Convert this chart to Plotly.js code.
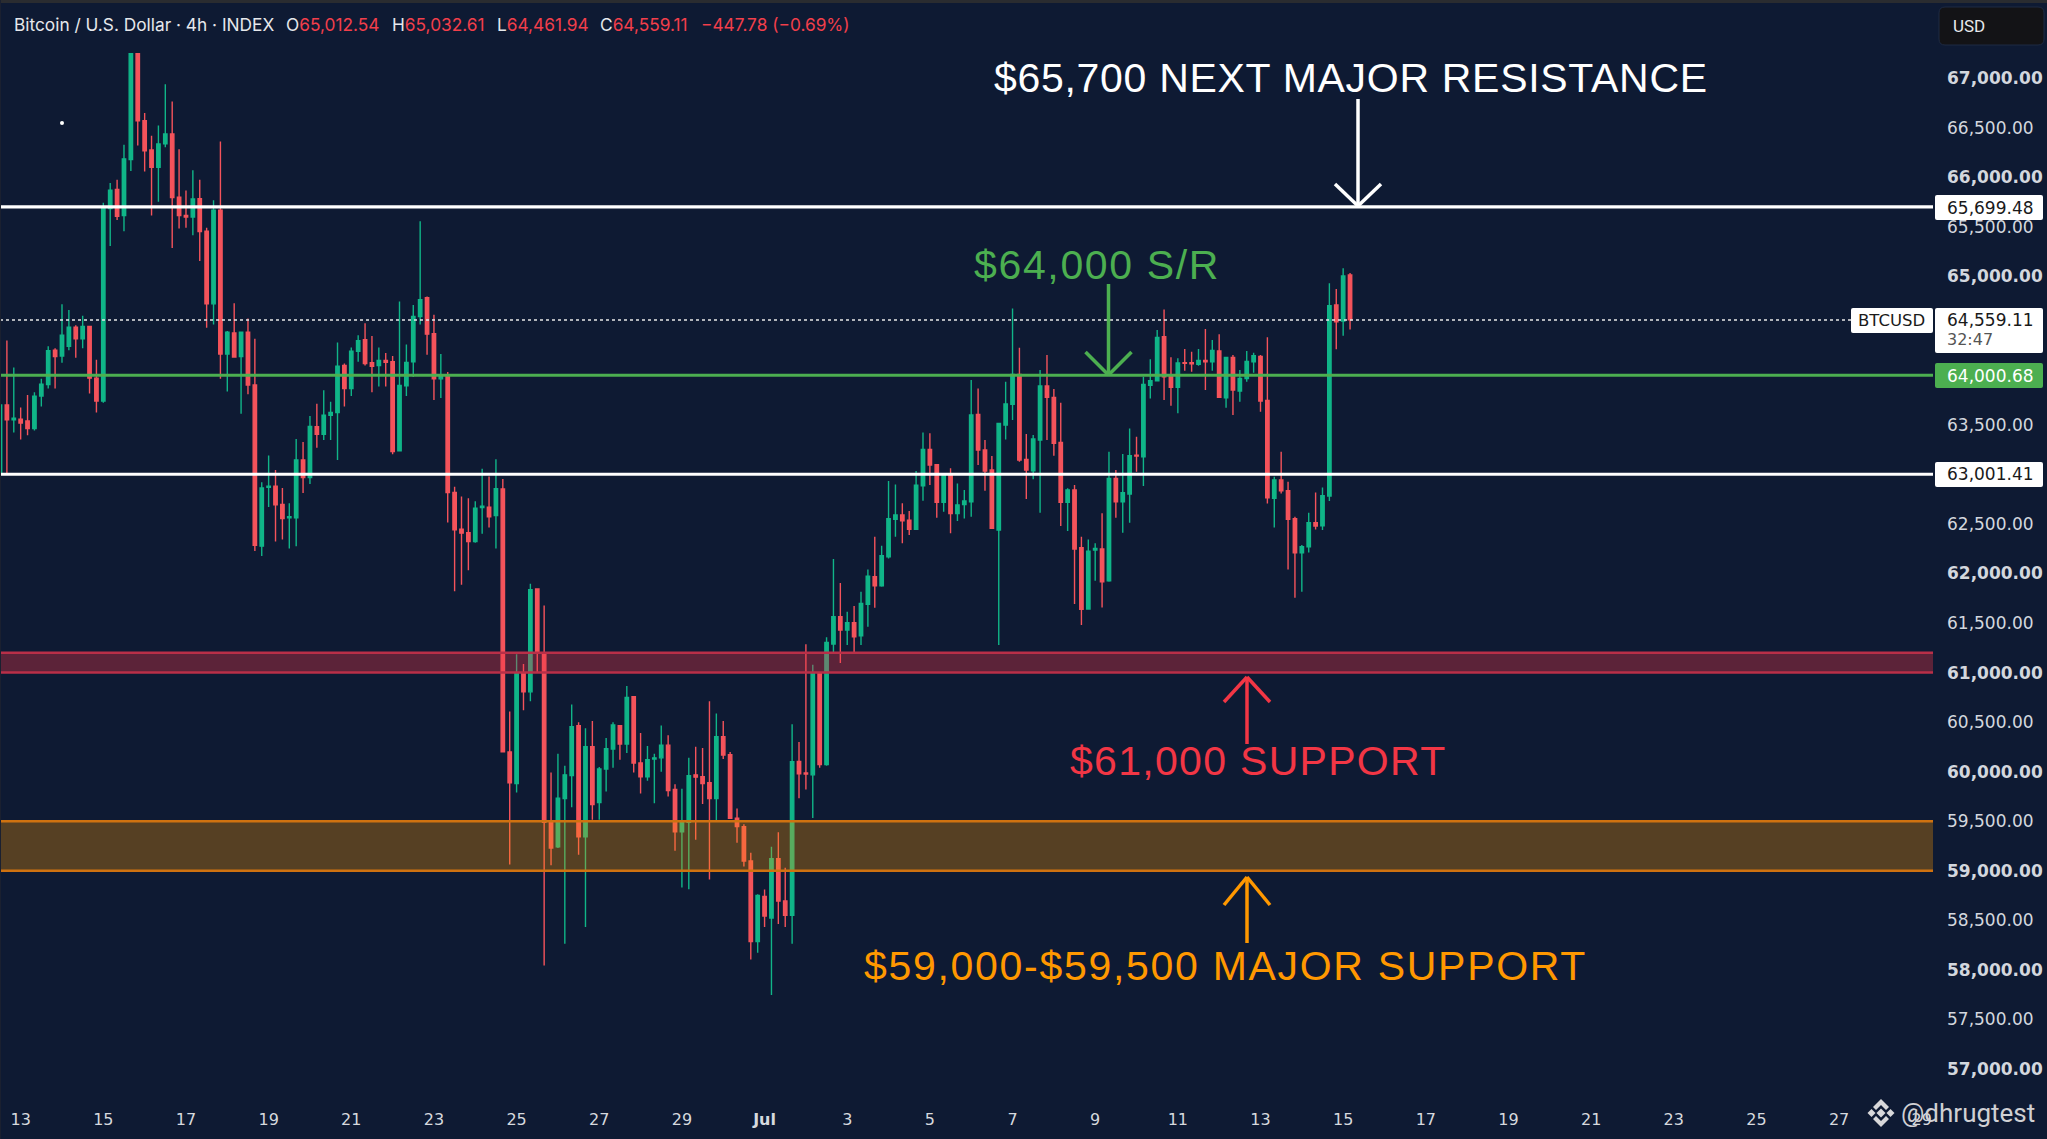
<!DOCTYPE html>
<html><head><meta charset="utf-8">
<script src="https://cdn.plot.ly/plotly-3.0.1.min.js"></script>
<style>html,body{margin:0;padding:0;background:#0e1a33;overflow:hidden}</style>
</head><body><div id="chart" style="width:2047px;height:1139px"></div>
<script>
const opens=[63017,63701,63550,63558,63539,63462,63790,63906,64253,64195,64292,64485,64369,64493,63971,63740,65682,65875,65613,66177,67246,66570,66273,66099,66335,66435,65798,65613,65597,65783,65454,64721,65667,64215,64427,64188,64435,63902,62276,62871,62882,62697,62562,62562,63145,62967,63481,63404,63597,63624,64099,63867,64242,64358,64126,64099,64149,64137,63238,63894,64137,64593,64782,64419,63964,63995,62817,62446,62411,62322,62666,62670,62585,62853,60200,59881,60998,60806,61844,61197,59502,59242,59729,59960,60463,59342,60252,59689,60028,60228,60463,60280,60758,60088,59949,60128,60140,60268,59821,59394,59490,59968,59949,59889,59729,60352,60172,59530,59446,59099,58285,58740,58524,59123,58696,58552,60104,59988,59968,60998,60072,61289,61564,61429,61503,61372,61688,61967,61877,62169,62546,62590,62539,62445,62886,63252,63098,62718,62993,62606,62697,62724,63606,63246,63044,62438,63498,63707,64009,63151,63037,63347,63892,63777,63323,62718,62842,62260,61641,62236,62247,61927,62960,62724,62802,63195,63178,63898,63945,64389,63992,63878,64127,64127,64110,64151,64137,64245,63774,64181,63841,63966,64137,64191,63747,62758,62943,62835,62553,62210,62270,62512,62482,62781,64709,64548,65012.54];
const highs=[63701,64350,64079,63674,63802,63828,63964,64292,64273,64717,64659,64504,64601,64497,64157,65740,65941,65972,66327,67246,67246,66648,66416,66520,66937,66764,66281,65864,66068,65972,65489,65767,66358,64446,64728,64435,64574,64369,62921,63191,63045,62863,62709,63357,63326,63589,63713,63848,63732,64330,64118,64280,64404,64524,64396,64280,64226,64195,64744,64311,64709,65555,64794,64612,64215,64033,62875,62778,62759,62728,63056,62979,63153,62953,60607,61185,61086,61896,61844,61676,59992,60180,60060,60679,60499,60439,60511,60048,60340,60499,60471,60866,60758,60391,60260,60180,60467,60367,59873,59829,60140,60252,60240,60711,60587,60511,60200,59629,59470,59182,58763,58811,59242,59390,59031,60479,60300,61285,61078,61006,61357,62147,61904,61614,61671,61816,62041,62371,62280,62933,62899,62708,62630,63034,63424,63414,63104,63010,63061,62909,62842,63952,63868,63347,63185,63522,63935,64675,64278,63407,63397,64053,64204,63861,63723,62859,62892,62371,62344,62304,62607,63229,63044,63205,63464,63380,63986,64161,64457,64665,64181,64171,64265,64238,64265,64467,64356,64413,64188,64204,64053,64245,64228,64204,64383,62977,63229,62926,62573,62287,62613,62818,62869,64928,64870,65079,65032.61];
const lows=[63017,62998,63423,63353,63396,63442,63686,63867,63867,64126,64253,64176,64273,63817,63624,63724,65304,65566,65454,66061,66319,66057,65613,65752,66300,65284,65481,65489,65412,65153,64481,64512,63964,63836,64184,63612,63809,62226,62176,62670,62322,62342,62253,62276,62813,62902,63269,63346,63346,63145,63686,63790,64137,64099,63828,63886,63886,63203,63238,63790,63983,64512,64207,63751,63771,62515,61820,61886,62033,62311,62400,62465,62253,60200,59063,59789,60619,60711,60998,58045,59055,59230,58265,59641,59162,58432,59514,59514,59801,60040,60120,60188,59992,59781,59909,59681,60000,59749,59202,58831,58815,59314,59673,58911,59502,60128,59522,59282,59043,58105,58173,58432,57746,58464,58432,58265,59733,59821,59534,60040,60060,61197,61098,61278,61194,61278,61463,61654,61866,62152,62371,62304,62388,62438,62734,62892,62563,62623,62405,62529,62556,62573,63094,62835,62448,61278,63353,63548,63128,62751,62950,62613,63347,63189,62479,62428,61692,61480,61641,61927,61658,61917,62563,62411,62512,63027,62882,63767,63945,63750,63693,63616,64046,64036,64097,63851,64046,63777,63673,63599,63734,63935,64026,63633,62707,62465,62808,62041,61755,61816,62213,62445,62438,62731,64262,64400,64461.94];
const closes=[63701,63550,63566,63519,63462,63790,63910,64249,64188,64404,64485,64369,64493,63971,63740,65682,65868,65605,66184,67246,66567,66265,66099,66335,66435,65794,65613,65597,65779,65451,64721,65667,64215,64435,64184,64435,63902,62284,62863,62882,62693,62554,62573,63145,62967,63485,63404,63597,63624,64091,63867,64242,64350,64118,64091,64149,64130,63230,63898,64130,64593,64763,64415,63964,63995,62817,62442,62407,62322,62658,62678,62573,62855,60200,59889,60998,60806,61836,61205,59490,59230,59733,59968,60455,59342,60252,59669,60028,60232,60471,60280,60750,60088,59949,60120,60140,60268,59809,59394,59490,59960,59945,59881,59729,60352,60168,59530,59446,59099,58285,58752,58544,59123,58696,58552,60100,59980,59976,60998,60072,61305,61564,61429,61503,61362,61698,61974,61877,62179,62553,62590,62533,62445,62892,63252,63094,62718,62993,62606,62691,62731,63599,63246,63034,62455,63515,63710,64009,63145,63044,63357,63892,63777,63313,62718,62842,62247,61638,62226,62253,61917,62960,62724,62815,63189,63185,63908,63945,64383,63986,63878,64124,64120,64117,64151,64137,64252,63777,64181,63851,63969,64141,64198,63740,62765,62943,62835,62546,62210,62270,62512,62479,62785,64702,64541,65002,64559.11];

const dateLabels=['13','15','17','19','21','23','25','27','29','<b>Jul</b>','3','5','7','9','11','13','15','17','19','21','23','25','27','29'];
const priceTicks=[57000,57500,58000,58500,59000,59500,60000,60500,61000,61500,62000,62500,63500,65000,65500,66000,66500,67000];
const resistanceLevel=65699.48, srLevel=64000.68, midLevel=63001.41, lastPrice=64559.11;
const redZone=[61000,61200], orangeZone=[59000,59500];

const PW=1933, PH=1099;            // plot size in px
const barPx=6.888;
const ppx=0.0991;                  // px per USD
const yTopPrice=67000+78/ppx;
const X=px=>px/PW, Y=py=>1-py/PH;
const fmt=v=>v.toLocaleString('en-US',{minimumFractionDigits:2,maximumFractionDigits:2});

const navy='#0e1a33', green='#4caf50', red='#f23645', orange='#ff9800';
const shapes=[];
function hline(v,color,w,dash){shapes.push({type:'line',xref:'paper',yref:'y',x0:0,x1:1,y0:v,y1:v,line:{color,width:w,dash:dash||'solid'}});}
function band(z,fill,edge){shapes.push({type:'rect',xref:'paper',yref:'y',x0:0,x1:1,y0:z[0],y1:z[1],fillcolor:fill,line:{width:0}});hline(z[0],edge,2.5);hline(z[1],edge,2.5);}
function seg(x0,y0,x1,y1,color,w){shapes.push({type:'line',xref:'paper',yref:'paper',x0:X(x0),y0:Y(y0),x1:X(x1),y1:Y(y1),line:{color,width:w}});}
function arrow(x,yFrom,yTip,hw,hy,color){seg(x,yFrom,x,yTip,color,3.5);seg(x-hw,hy,x,yTip,color,3.5);seg(x+hw,hy,x,yTip,color,3.5);}
function rrect(x0,y0,x1,y1,r,fill,edge){
 const p=(x,y)=>X(x)+','+Y(y);
 shapes.push({type:'path',xref:'paper',yref:'paper',fillcolor:fill,line:{color:edge||fill,width:edge?1:0},
  path:`M${p(x0+r,y0)} L${p(x1-r,y0)} Q${p(x1,y0)} ${p(x1,y0+r)} L${p(x1,y1-r)} Q${p(x1,y1)} ${p(x1-r,y1)} L${p(x0+r,y1)} Q${p(x0,y1)} ${p(x0,y1-r)} L${p(x0,y0+r)} Q${p(x0,y0)} ${p(x0+r,y0)} Z`});
}
function poly(pts,fill){shapes.push({type:'path',xref:'paper',yref:'paper',fillcolor:fill,line:{width:0},path:'M'+pts.map(a=>X(a[0])+','+Y(a[1])).join(' L')+' Z'});}

band(redZone,'rgba(242,54,69,0.34)','#b92f48');
band(orangeZone,'rgba(255,152,0,0.30)','#cf7210');
hline(lastPrice,'#e8e8e8',1.5,'dot');
hline(resistanceLevel,'#ffffff',3.2);
hline(srLevel,green,3);
hline(midLevel,'#ffffff',3.2);
arrow(1358,99,206,23,184,'#ffffff');
arrow(1108.5,284,375,23,352,green);
arrow(1247,744,677,23,702,red);
arrow(1247,943,877,23,905,orange);
// stray dot
shapes.push({type:'circle',xref:'paper',yref:'paper',x0:X(60),x1:X(64),y0:Y(121),y1:Y(125),fillcolor:'#fff',line:{width:0}});
// top edge
rrect(-1,-1,2047,3,0,'#2a2c30');
rrect(0,0,1,1139,0,'#1a2030');
// badges
rrect(1935,195,2043,220,2,'#ffffff');
rrect(1851,308,1933,333,2,'#ffffff');
rrect(1935,308,2043,353,2,'#ffffff');
rrect(1935,363,2043,388,2,green);
rrect(1935,462,2043,487,2,'#ffffff');
rrect(1939,7,2044,45,6,'#131316','#1e2a42');
// binance mark
const wm='#d8d8da';
const bx=1881,by=1113;
poly([[bx,by-4.5],[bx+4.5,by],[bx,by+4.5],[bx-4.5,by]],wm);
poly([[bx-13.5,by],[bx-9.5,by-4],[bx-5.5,by],[bx-9.5,by+4]],wm);
poly([[bx+13.5,by],[bx+9.5,by-4],[bx+5.5,by],[bx+9.5,by+4]],wm);
poly([[bx,by-14],[bx+8,by-6],[bx+5,by-3],[bx,by-8],[bx-5,by-3],[bx-8,by-6]],wm);
poly([[bx,by+14],[bx+8,by+6],[bx+5,by+3],[bx,by+8],[bx-5,by+3],[bx-8,by+6]],wm);

function note(text,x,y,size,color,family){return {text,xref:'paper',yref:'paper',x:X(x),y:Y(y),xanchor:'left',yanchor:'middle',align:'left',showarrow:false,
  font:{family:family||'Liberation Sans, sans-serif',size,color},borderpad:0};}
const R='#f23f4b', W='#e6e8ec', D='#1a1a1a';
const hdrFont='Inter, sans-serif', num='DejaVu Sans';
const bigTexts=[['$65,700 NEXT MAJOR RESISTANCE',993,78,'#ffffff',0.7],['$64,000 S/R',973,265,green,1.65],['$61,000 SUPPORT',1069,761,red,1.3],['$59,000-$59,500 MAJOR SUPPORT',863,966,orange,1.7]];
const annotations=[
 note('Bitcoin / U.S. Dollar · 4h · INDEX',13,24.5,17.3,W,hdrFont),
 note(`O<span style="color:${R}">65,012.54</span>`,285,24.5,17.3,W,hdrFont),
 note(`H<span style="color:${R}">65,032.61</span>`,391,24.5,17.3,W,hdrFont),
 note(`L<span style="color:${R}">64,461.94</span>`,496,24.5,17.3,W,hdrFont),
 note(`C<span style="color:${R}">64,559.11</span>`,599,24.5,17.3,W,hdrFont),
 note('−447.78 (−0.69%)',700,24.5,17.3,R,hdrFont),
 ...bigTexts.map(t=>note(t[0],t[1],t[2],41,t[3])),
 note('@dhrugtest',1900,1113,26,'#d0d0d3','Roboto, sans-serif'),
 note('USD',1952,26,17,W,'Roboto, sans-serif'),
 note(fmt(resistanceLevel),1946.5,207.5,17,D,num),
 note(fmt(lastPrice),1946.5,319.5,17,D,num),
 note('32:47',1946.5,340,16,'#555555',num),
 note('BTCUSD',1857,320.5,16.5,D,num),
 note(fmt(srLevel),1946.5,375.5,17,'#ffffff',num),
 note(fmt(midLevel),1946.5,474.5,17,D,num)
];

const xs=opens.map((_,i)=>i);
const trace={type:'candlestick',x:xs,open:opens,high:highs,low:lows,close:closes,
 increasing:{line:{color:'#10b588',width:1.4},fillcolor:'#10b588'},
 decreasing:{line:{color:'#f4535b',width:1.4},fillcolor:'#f4535b'},
 whiskerwidth:0,width:0.68,hoverinfo:'skip',showlegend:false};

const layout={width:2047,height:1139,paper_bgcolor:navy,plot_bgcolor:navy,showlegend:false,
 margin:{l:0,r:114,t:0,b:40,pad:0},
 xaxis:{range:[0,PW/barPx],tickmode:'array',tickvals:dateLabels.map((_,k)=>3+12*k),ticktext:dateLabels,
   showgrid:false,zeroline:false,showline:false,ticks:'',rangeslider:{visible:false},fixedrange:true,
   tickfont:{family:'DejaVu Sans',size:16,color:'#d6d9de'},tickangle:0,ticklabelstandoff:9,automargin:false},
 yaxis:{side:'right',range:[yTopPrice-PH/ppx,yTopPrice],tickmode:'array',tickvals:priceTicks,
   ticktext:priceTicks.map(v=>v%1000===0?'<b>'+fmt(v)+'</b>':fmt(v)),
   showgrid:false,zeroline:false,showline:false,ticks:'',fixedrange:true,
   tickfont:{family:'DejaVu Sans',size:17,color:'#d3d7de'},ticklabelstandoff:13,automargin:false},
 shapes,annotations};
Plotly.newPlot('chart',[trace],layout,{displayModeBar:false,staticPlot:true}).then(()=>{
 document.querySelectorAll('.annotation-text').forEach(el=>{
  const b=bigTexts.find(t=>t[0]===el.textContent);
  if(b) el.style.letterSpacing=b[4]+'px';
 });
});
</script></body></html>
